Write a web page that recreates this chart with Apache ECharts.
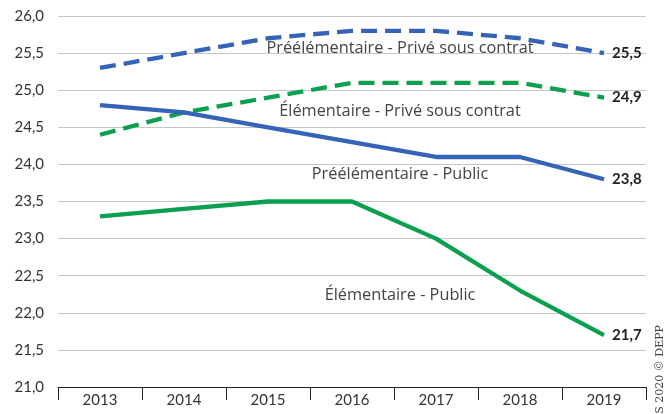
<!DOCTYPE html>
<html>
<head>
<meta charset="utf-8">
<script src="https://cdn.jsdelivr.net/npm/echarts@6/dist/echarts.min.js"></script>
<style>
  html, body { margin: 0; padding: 0; background: #fff; }
  #chart { width: 669px; height: 414px; }
</style>
</head>
<body>
<div id="chart"></div>
<script>
// années
const years = ["2013", "2014", "2015", "2016", "2017", "2018", "2019"];

// nombre moyen d'élèves par classe
const preelemPrive = [25.3, 25.5, 25.7, 25.8, 25.8, 25.7, 25.5];
const elemPrive = [24.4, 24.7, 24.9, 25.1, 25.1, 25.1, 24.9];
const preelemPublic = [24.8, 24.7, 24.5, 24.3, 24.1, 24.1, 23.8];
const elemPublic = [23.3, 23.4, 23.5, 23.5, 23.0, 22.3, 21.7];

const seriesNames = [
  "Préélémentaire - Privé sous contrat",
  "Élémentaire - Privé sous contrat",
  "Préélémentaire - Public",
  "Élémentaire - Public"
];
// où poser le nom de chaque courbe (année, valeur)
const nameAnchors = [["2016", 25.57], ["2016", 24.72], ["2016", 23.86], ["2016", 22.24]];

const blue = "#3563b5";
const green = "#0aa050";
const font = "Lato";

function fr(v) {
  return v.toFixed(1).replace(".", ",");
}

function makeSeries(name, data, color, dashed, anchor) {
  return {
    name: name,
    type: "line",
    data: data,
    symbol: "none",
    lineStyle: { color: color, width: 4.3, type: dashed ? [16, 8] : "solid", cap: "butt" },
    endLabel: {
      show: true,
      formatter: (p) => fr(p.value),
      distance: 8,
      fontFamily: font,
      fontWeight: "bold",
      fontSize: 15,
      color: "#222"
    },
    markPoint: {
      symbol: "circle",
      symbolSize: 0,
      silent: true,
      data: [{ coord: anchor, value: name }],
      label: {
        show: true,
        formatter: name,
        offset: [48, 0],
        fontFamily: "Open Sans",
        fontSize: 16.3,
        color: "#444"
      }
    },
    z: 3
  };
}

let myChart = echarts.init(document.getElementById("chart"));

let option = {
  animation: false,
  backgroundColor: "#fff",
  grid: { left: 58, right: 23, top: 16, bottom: 27 },
  xAxis: {
    type: "category",
    data: years,
    boundaryGap: true,
    axisLine: { lineStyle: { color: "#222", width: 1 } },
    axisTick: { show: true, length: 13, lineStyle: { color: "#222" } },
    axisLabel: { fontFamily: font, fontSize: 15, color: "#333", margin: 6 }
  },
  yAxis: {
    type: "value",
    min: 21,
    max: 26,
    interval: 0.5,
    axisLine: { show: false },
    axisTick: { show: false },
    splitLine: { lineStyle: { color: "#c6c6c6", width: 1 } },
    axisLabel: { fontFamily: font, fontSize: 15, color: "#333", margin: 14, formatter: fr }
  },
  series: [
    makeSeries(seriesNames[0], preelemPrive, blue, true, nameAnchors[0]),
    makeSeries(seriesNames[1], elemPrive, green, true, nameAnchors[1]),
    makeSeries(seriesNames[2], preelemPublic, blue, false, nameAnchors[2]),
    makeSeries(seriesNames[3], elemPublic, green, false, nameAnchors[3])
  ],
  graphic: [
    {
      type: "text",
      x: 660,
      y: 325,
      rotation: Math.PI / 2,
      style: {
        text: "Source : RERS 2020 © DEPP",
        fontFamily: "DejaVu Serif",
        fontSize: 11,
        fill: "#444",
        textAlign: "right",
        textVerticalAlign: "middle"
      }
    }
  ]
};

myChart.setOption(option);
</script>
</body>
</html>
